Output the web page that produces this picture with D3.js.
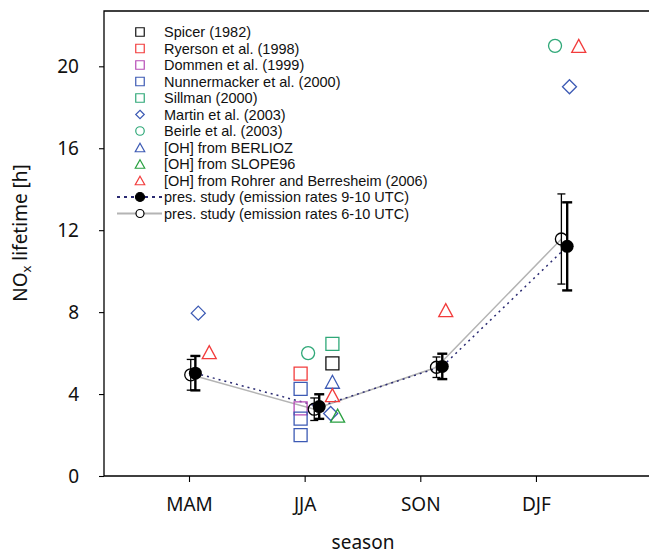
<!DOCTYPE html>
<html>
<head>
<meta charset="utf-8">
<script src="https://cdnjs.cloudflare.com/ajax/libs/d3/7.8.5/d3.min.js"></script>
<style>
  body { margin: 0; background: #fff; overflow: hidden; }
  #chart svg { display: block; }
</style>
</head>
<body>
<div id="chart"></div>
<script>
// seasons and y ticks
var seasons = ["MAM", "JJA", "SON", "DJF"];
var yTicks = [0, 4, 8, 12, 16, 20];

// literature values, x given as season index (with the small offsets used in the plot)
var refNames = [
  "Spicer (1982)",
  "Ryerson et al. (1998)",
  "Dommen et al. (1999)",
  "Nunnermacker et al. (2000)",
  "Sillman (2000)",
  "Martin et al. (2003)",
  "Beirle et al. (2003)",
  "[OH] from BERLIOZ",
  "[OH] from SLOPE96",
  "[OH] from Rohrer and Berresheim (2006)"
];
var spicer = [[1.24, 5.5]];
var ryerson = [[0.965, 5.0]];
var dommen = [[0.965, 3.3]];
var nunnermacker = [[0.965, 4.25], [0.965, 2.8], [0.965, 2.0]];
var sillman = [[1.24, 6.45]];
var martin = [[0.08, 7.95], [1.225, 3.05], [3.29, 19.0]];
var beirle = [[1.03, 6.0], [3.165, 21.0]];
var berlioz = [[1.24, 4.6]];
var slope96 = [[1.285, 2.95]];
var rohrer = [[0.175, 6.05], [1.24, 3.95], [2.22, 8.1], [3.37, 21.0]];
var refData = [spicer, ryerson, dommen, nunnermacker, sillman, martin, beirle, berlioz, slope96, rohrer];

// present study
var studyNames = [
  "pres. study (emission rates 9-10 UTC)",
  "pres. study (emission rates 6-10 UTC)"
];
var filledX = [0.055, 1.126, 2.19, 3.27];
var filledY = [5.02, 3.39, 5.35, 11.21];
var filledErr = [0.84, 0.6, 0.62, 2.15];
var openX = [0.015, 1.083, 2.14, 3.22];
var openY = [4.94, 3.26, 5.31, 11.57];
var openErr = [0.75, 0.55, 0.5, 2.2];

// styles
var refShapes = ["square", "square", "square", "square", "square", "diamond", "circle", "triangle", "triangle", "triangle"];
var refColors = ["#111111", "#f23c3c", "#b64cb6", "#3c5ab4", "#2fa878", "#3c5ab4", "#2fa878", "#3c5ab4", "#29a040", "#f23c3c"];

var width = 649, height = 554;
var margin = { top: 11, left: 104 };

var svg = d3.select("#chart")
  .append("svg")
  .attr("width", width)
  .attr("height", height)
  .style("font-family", "'Noto Sans', sans-serif");

// frame runs past the right edge, as in the original figure
var xScale = d3.scaleLinear()
  .domain([-0.735, 4.0])
  .range([margin.left, 651.6]);

var yScale = d3.scaleLinear()
  .domain([0, 22.7])
  .range([476, margin.top]);

// symbol path centred on its bounding box
function shapePath(shape, s) {
  var h = s / 2;
  if (shape === "square") return "M" + (-h) + "," + (-h) + "h" + s + "v" + s + "h" + (-s) + "Z";
  if (shape === "diamond") return "M0," + (-h) + "L" + h + ",0L0," + h + "L" + (-h) + ",0Z";
  if (shape === "triangle") return "M0," + (-h) + "L" + (h + 0.5) + "," + h + "L" + (-h - 0.5) + "," + h + "Z";
  return d3.arc()({ innerRadius: 0, outerRadius: h, startAngle: 0, endAngle: 2 * Math.PI });
}

// frame (left, top, bottom; the right side is outside the picture)
var x0 = xScale.range()[0], x1 = width + 5;
svg.append("path")
  .attr("d", "M" + x1 + "," + yScale.range()[1] + "H" + x0 + "V" + yScale.range()[0] + "H" + x1)
  .attr("fill", "none")
  .attr("stroke", "#000")
  .attr("stroke-width", 1.3);

// Y axis
var yAxis = svg.append("g")
  .attr("transform", "translate(" + margin.left + ",0)")
  .call(d3.axisLeft(yScale).tickValues(yTicks).tickSize(5).tickPadding(20));
yAxis.select(".domain").remove();
yAxis.selectAll("line").attr("stroke-width", 1.1);
yAxis.selectAll("text")
  .attr("font-family", "'Noto Sans', sans-serif")
  .attr("font-size", "19px")
  .attr("fill", "#111");

// X axis
var xAxis = svg.append("g")
  .attr("transform", "translate(0," + yScale(0) + ")")
  .call(d3.axisBottom(xScale).tickValues([0, 1, 2, 3]).tickSize(6).tickPadding(16)
    .tickFormat(function (d) { return seasons[d]; }));
xAxis.select(".domain").remove();
xAxis.selectAll("line").attr("stroke-width", 1.1);
xAxis.selectAll("text")
  .attr("font-family", "'Noto Sans', sans-serif")
  .attr("font-size", "19px")
  .attr("fill", "#111");

// Axis titles
svg.append("text")
  .attr("x", 363)
  .attr("y", 549)
  .attr("text-anchor", "middle")
  .attr("font-size", "19px")
  .attr("fill", "#111")
  .text("season");

var yLabel = svg.append("text")
  .attr("transform", "translate(27,233) rotate(-90)")
  .attr("text-anchor", "middle")
  .attr("font-size", "19px")
  .attr("fill", "#111");
yLabel.append("tspan").text("NO");
yLabel.append("tspan").attr("font-size", "13px").attr("dy", 4).text("x");
yLabel.append("tspan").attr("dy", -4).text(" lifetime [h]");

// present study lines
var line = d3.line()
  .x(function (d) { return xScale(d[0]); })
  .y(function (d) { return yScale(d[1]); });

svg.append("path")
  .datum(d3.zip(openX, openY))
  .attr("d", line)
  .attr("fill", "none")
  .attr("stroke", "#b4b4b4")
  .attr("stroke-width", 1.5);

svg.append("path")
  .datum(d3.zip(filledX, filledY))
  .attr("d", line)
  .attr("fill", "none")
  .attr("stroke", "#2b2b72")
  .attr("stroke-width", 1.5)
  .attr("stroke-dasharray", "2,4");

// literature markers
refData.forEach(function (pts, i) {
  svg.append("g")
    .selectAll("path")
    .data(pts)
    .enter()
    .append("path")
    .attr("transform", function (d) { return "translate(" + xScale(d[0]) + "," + yScale(d[1]) + ")"; })
    .attr("d", shapePath(refShapes[i], refShapes[i] === "diamond" ? 14 : 13))
    .attr("fill", "none")
    .attr("stroke", refColors[i])
    .attr("stroke-width", 1.3);
});

// error bars
function errorBars(xs, ys, errs, lw, cap) {
  var g = svg.append("g").attr("stroke", "#000").attr("stroke-width", lw);
  xs.forEach(function (x, i) {
    var px = xScale(x);
    var top = yScale(ys[i] + errs[i]), bot = yScale(ys[i] - errs[i]);
    g.append("line").attr("x1", px).attr("x2", px).attr("y1", top).attr("y2", bot);
    g.append("line").attr("x1", px - cap).attr("x2", px + cap).attr("y1", top).attr("y2", top);
    g.append("line").attr("x1", px - cap).attr("x2", px + cap).attr("y1", bot).attr("y2", bot);
  });
}
errorBars(openX, openY, openErr, 1.3, 4);
errorBars(filledX, filledY, filledErr, 2.4, 5);

svg.append("g")
  .selectAll("circle")
  .data(d3.zip(openX, openY))
  .enter()
  .append("circle")
  .attr("cx", function (d) { return xScale(d[0]); })
  .attr("cy", function (d) { return yScale(d[1]); })
  .attr("r", 6)
  .attr("fill", "none")
  .attr("stroke", "#000")
  .attr("stroke-width", 1.3);

svg.append("g")
  .selectAll("circle")
  .data(d3.zip(filledX, filledY))
  .enter()
  .append("circle")
  .attr("cx", function (d) { return xScale(d[0]); })
  .attr("cy", function (d) { return yScale(d[1]); })
  .attr("r", 6.5)
  .attr("fill", "#000");

// Legend
var legend = svg.append("g")
  .style("font-family", "'Liberation Sans', Arial, sans-serif")
  .style("font-size", "14.5px");
var rowY = function (i) { return 32 + i * 16.5; };

refNames.forEach(function (name, i) {
  legend.append("path")
    .attr("transform", "translate(140," + rowY(i) + ")")
    .attr("d", shapePath(refShapes[i], 8.5))
    .attr("fill", "none")
    .attr("stroke", refColors[i])
    .attr("stroke-width", 1.2);
  legend.append("text")
    .attr("x", 164)
    .attr("y", rowY(i))
    .attr("dy", "0.35em")
    .attr("fill", "#111")
    .text(name);
});

studyNames.forEach(function (name, j) {
  var y = rowY(refNames.length + j);
  legend.append("line")
    .attr("x1", 117).attr("x2", 162)
    .attr("y1", y).attr("y2", y)
    .attr("stroke", j === 0 ? "#2b2b72" : "#b4b4b4")
    .attr("stroke-width", j === 0 ? 1.8 : 2)
    .attr("stroke-dasharray", j === 0 ? "3,4" : null);
  legend.append("circle")
    .attr("cx", 140).attr("cy", y)
    .attr("r", j === 0 ? 4.5 : 4)
    .attr("fill", j === 0 ? "#000" : "#fff")
    .attr("stroke", "#000")
    .attr("stroke-width", 1.2);
  legend.append("text")
    .attr("x", 164)
    .attr("y", y)
    .attr("dy", "0.35em")
    .attr("fill", "#111")
    .text(name);
});
</script>
</body>
</html>
